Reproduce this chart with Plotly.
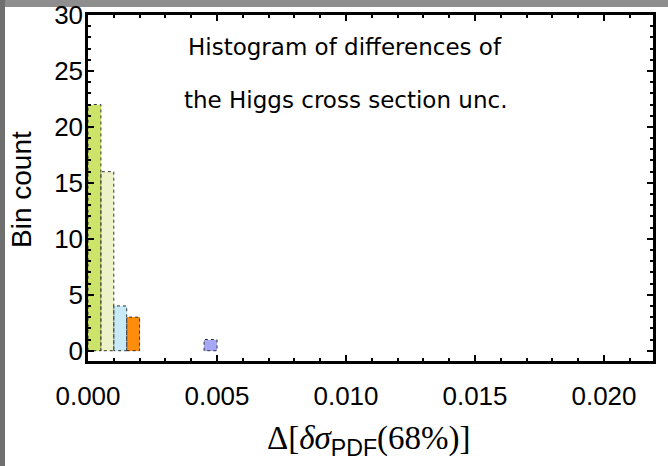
import plotly.graph_objects as go

# Histogram bins (left edges), common bin width and counts
bin_left = [0.0, 0.0005, 0.001, 0.0015, 0.0045]
bin_width = 0.0005
counts = [22, 16, 4, 3, 1]
bar_colors = ["#cde46b", "#eef2c9", "#c7eaf6", "#ff8c0a", "#a6a8f5"]

x_ticks = [0.0, 0.005, 0.010, 0.015, 0.020]
x_tick_text = ["0.000", "0.005", "0.010", "0.015", "0.020"]
y_ticks = [0, 5, 10, 15, 20, 25, 30]

W, H = 668, 466
ML, MR, MT, MB = 88, 15, 15, 105

fig = go.Figure()

centers = [l + bin_width / 2 for l in bin_left]
fig.add_trace(go.Bar(
    x=centers, y=counts, width=[bin_width] * len(counts),
    marker=dict(color=bar_colors, line=dict(width=0)),
    showlegend=False, hoverinfo="skip",
))

# dotted outlines around each bar
for l, c in zip(bin_left, counts):
    r = l + bin_width
    fig.add_trace(go.Scatter(
        x=[l, l, r, r, l], y=[0, c, c, 0, 0], mode="lines",
        line=dict(color="#333333", width=1, dash="dot"),
        showlegend=False, hoverinfo="skip",
    ))

pw = W - ML - MR
ph = H - MT - MB


def px_x(p):
    return (p - ML) / pw


def px_y(p):
    return (H - MB - p) / ph


# grey frame: lighter top strip, white panel inside
fig.add_shape(type="rect", xref="paper", yref="paper",
              x0=px_x(5), x1=px_x(W + 5), y0=px_y(-5), y1=px_y(7),
              fillcolor="#8e8e8e", line=dict(width=0), layer="below")
fig.add_shape(type="rect", xref="paper", yref="paper",
              x0=px_x(5), x1=px_x(W + 5), y0=px_y(7), y1=px_y(H + 5),
              fillcolor="white", line=dict(width=0), layer="below")

font_main = "Liberation Sans, Arial, sans-serif"
font_title = "DejaVu Sans, Verdana, sans-serif"

for txt, ypx in [("Histogram of differences of", 47), ("the Higgs cross section unc.", 100)]:
    fig.add_annotation(text=txt, xref="paper", yref="paper",
                       x=px_x(345), y=px_y(ypx), xanchor="center", yanchor="middle",
                       showarrow=False,
                       font=dict(family=font_title, size=23, color="black"))

# axis titles
fig.add_annotation(
    text="Δ[<i>δσ</i><sub><span style=\"font-family:Liberation Sans\">PDF</span></sub>(68%)]",
    xref="paper", yref="paper", x=px_x(369), y=px_y(440),
    xanchor="center", yanchor="middle", showarrow=False,
    font=dict(family="Liberation Serif, Times New Roman, serif", size=33, color="black"))
fig.add_annotation(
    text="Bin count", xref="paper", yref="paper", x=px_x(21), y=px_y(190),
    xanchor="center", yanchor="middle", showarrow=False, textangle=-90,
    font=dict(family=font_main, size=28, color="black"))

axis_common = dict(
    showline=True, linecolor="black", linewidth=2.5, mirror="allticks",
    ticks="inside", ticklen=6, tickwidth=2, tickcolor="black",
    showgrid=False, zeroline=False, automargin=False,
    tickfont=dict(family=font_main, size=26, color="black"),
)

fig.update_xaxes(
    range=[0, 0.0219], tickvals=x_ticks, ticktext=x_tick_text,
    ticklabelstandoff=10,
    minor=dict(dtick=0.001, tick0=0, ticks="inside", ticklen=3, tickwidth=2, tickcolor="black"),
    **axis_common,
)
fig.update_yaxes(
    range=[-0.92, 30.0], tickvals=y_ticks,
    ticklabelstandoff=-3,
    minor=dict(dtick=1, tick0=0, ticks="inside", ticklen=3, tickwidth=2, tickcolor="black"),
    **axis_common,
)

fig.update_layout(
    width=W, height=H,
    margin=dict(l=ML, r=MR, t=MT, b=MB),
    paper_bgcolor="#6f6f6f", plot_bgcolor="white",
    bargap=0,
)

fig.write_html("out.html")
